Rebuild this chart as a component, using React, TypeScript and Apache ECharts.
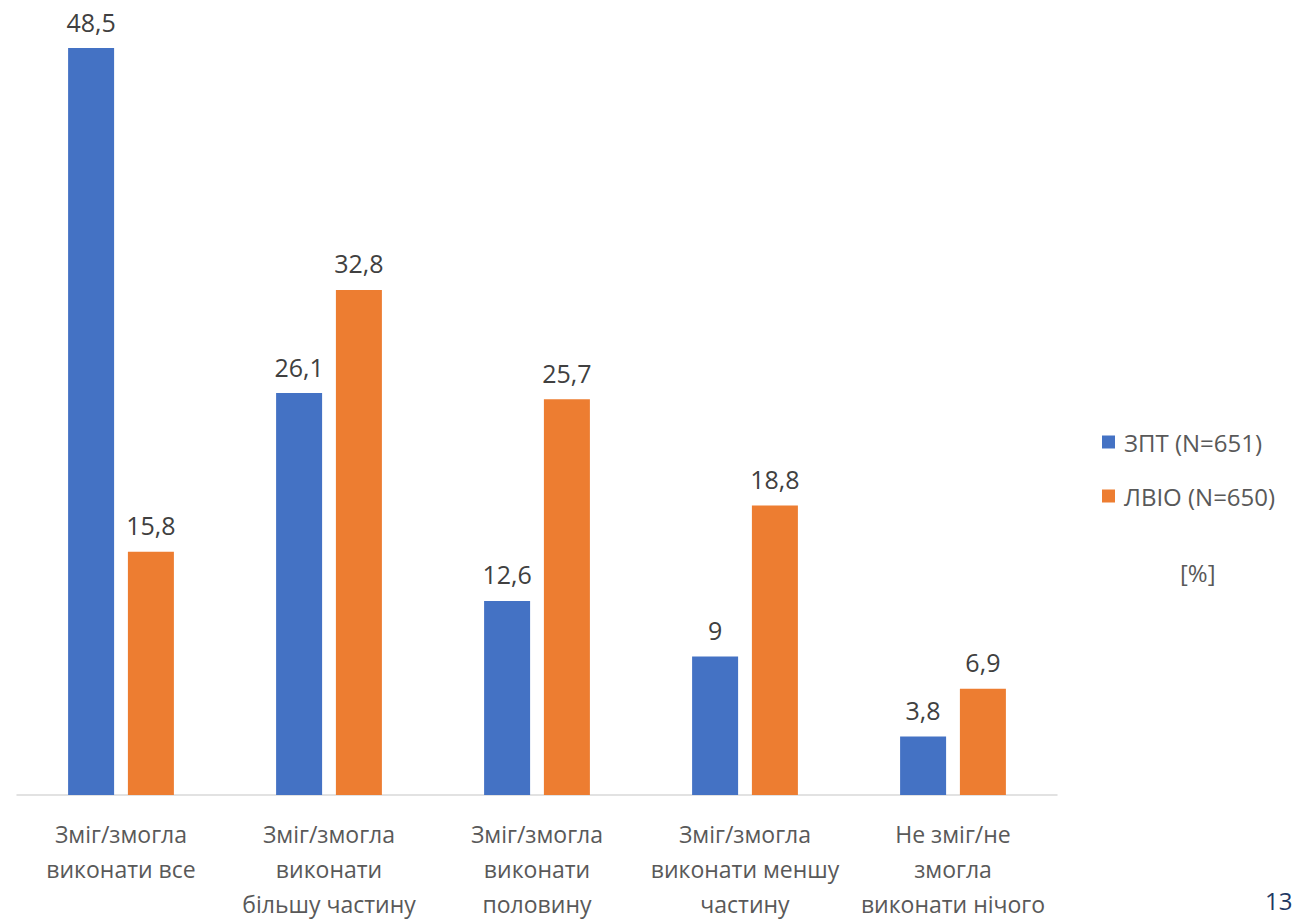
import React, { useEffect, useRef } from "react";
import * as echarts from "echarts";

const categories = [
  "Зміг/змогла\nвиконати все",
  "Зміг/змогла\nвиконати\nбільшу частину",
  "Зміг/змогла\nвиконати\nполовину",
  "Зміг/змогла\nвиконати меншу\nчастину",
  "Не зміг/не\nзмогла\nвиконати нічого",
];
const seriesNames = ["ЗПТ (N=651)", "ЛВІО (N=650)"];
const zptValues = [48.5, 26.1, 12.6, 9, 3.8];
const lvioValues = [15.8, 32.8, 25.7, 18.8, 6.9];

const FONT = "'Open Sans', 'Noto Sans', sans-serif";
const TXT = "#595959";

export default function App() {
  const ref = useRef<HTMLDivElement>(null);
  useEffect(() => {
    const chart = echarts.init(ref.current!, null, { renderer: "svg" });
    const label = {
      show: true,
      position: "top",
      distance: 14,
      fontSize: 25,
      fontFamily: FONT,
      color: "#404040",
      formatter: (p: any) => String(p.value).replace(".", ","),
    };
    chart.setOption({
      animation: false,
      backgroundColor: "#ffffff",
      textStyle: { fontFamily: FONT },
      grid: { left: 17, right: 241, top: 25, bottom: 124, containLabel: false },
      legend: {
        orient: "vertical",
        left: 1097,
        top: 425,
        itemWidth: 13,
        itemHeight: 13,
        itemGap: 30,
        icon: "rect",
        textStyle: { fontSize: 24, color: TXT, fontFamily: FONT, padding: [0, 0, 0, 4] },
        data: seriesNames,
      },
      xAxis: {
        type: "category",
        data: categories,
        axisLine: { lineStyle: { color: "#D9D9D9", width: 1.5 } },
        axisTick: { show: false },
        axisLabel: {
          interval: 0,
          margin: 21,
          fontSize: 23,
          lineHeight: 35,
          color: TXT,
          fontFamily: FONT,
          verticalAlign: "top",
        },
      },
      yAxis: {
        type: "value",
        min: 0,
        max: 50,
        show: false,
        splitLine: { show: false },
      },
      series: [
        {
          name: seriesNames[0],
          type: "bar",
          data: zptValues,
          barWidth: 46,
          barGap: "30%",
          itemStyle: { color: "#4472C4" },
          label,
        },
        {
          name: seriesNames[1],
          type: "bar",
          data: lvioValues,
          barWidth: 46,
          itemStyle: { color: "#ED7D31" },
          label,
        },
      ],
      graphic: [
        {
          type: "text",
          left: 1180,
          top: 560,
          style: { text: "[%]", fontSize: 24, fill: TXT, fontFamily: FONT },
        },
        {
          type: "text",
          left: 1265,
          top: 888,
          style: { text: "13", fontSize: 24, fill: "#1F3864", fontFamily: FONT },
        },
      ],
    });
    return () => chart.dispose();
  }, []);
  return (
    <div
      ref={ref}
      style={{ position: "fixed", left: 0, top: 0, width: 1298, height: 921 }}
    />
  );
}
